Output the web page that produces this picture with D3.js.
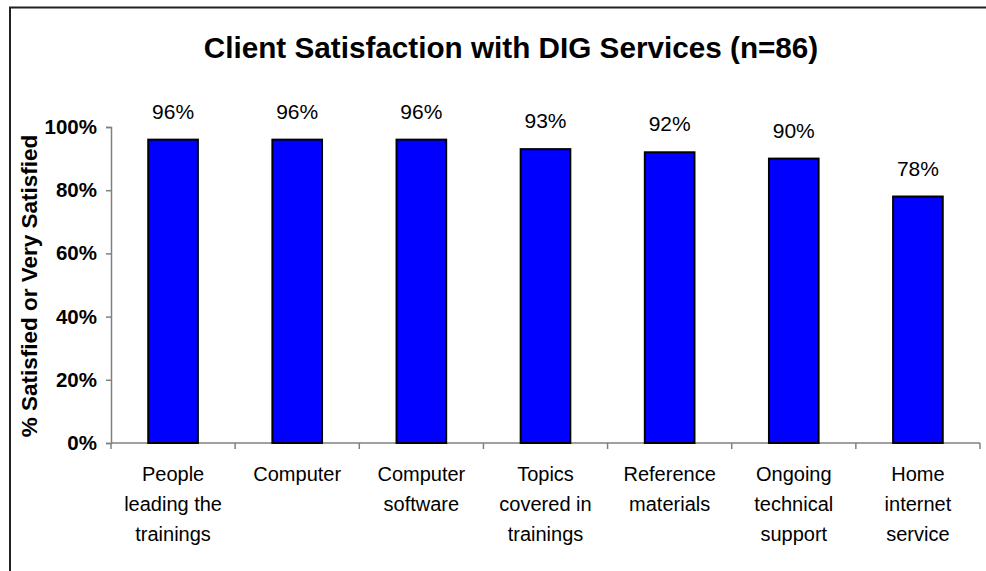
<!DOCTYPE html>
<html>
<head>
<meta charset="utf-8">
<script src="https://cdn.jsdelivr.net/npm/d3@7"></script>
<style>
  html, body { margin: 0; padding: 0; background: #fff; }
  svg { display: block; font-family: "Liberation Sans", Arial, sans-serif; }
</style>
</head>
<body>
<svg id="chart" width="986" height="571"></svg>
<script>
// Service categories (each label split into display lines)
const categories = [
  "People leading the trainings",
  "Computer",
  "Computer software",
  "Topics covered in trainings",
  "Reference materials",
  "Ongoing technical support",
  "Home internet service"
];
const categoryLines = [
  ["People", "leading the", "trainings"],
  ["Computer"],
  ["Computer", "software"],
  ["Topics", "covered in", "trainings"],
  ["Reference", "materials"],
  ["Ongoing", "technical", "support"],
  ["Home", "internet", "service"]
];
// Share of clients satisfied or very satisfied (%)
const satisfied = [96, 96, 96, 93, 92, 90, 78];
// Y-axis tick values (%)
const yTicks = [0, 20, 40, 60, 80, 100];

const svg = d3.select("#chart");

// Outer chart frame
svg.append("rect")
  .attr("x", 10).attr("y", 7.5)
  .attr("width", 990).attr("height", 600)
  .attr("fill", "none").attr("stroke", "#222").attr("stroke-width", 2);

const plot = { left: 111, right: 980, top: 127, bottom: 443 };

const x = d3.scaleBand()
  .domain(categories)
  .range([plot.left, plot.right])
  .padding(0);

const y = d3.scaleLinear()
  .domain([0, 100])
  .range([plot.bottom, plot.top]);

// Title
svg.append("text")
  .attr("x", 511).attr("y", 58)
  .attr("text-anchor", "middle")
  .attr("font-size", 29.7).attr("font-weight", "bold")
  .attr("fill", "#000")
  .text("Client Satisfaction with DIG Services (n=86)");

// Y axis
const yAxis = d3.axisLeft(y)
  .tickValues(yTicks)
  .tickSize(5)
  .tickPadding(9)
  .tickFormat(d => d + "%");
const gy = svg.append("g")
  .attr("transform", `translate(${plot.left},0)`)
  .call(yAxis);
gy.select(".domain").attr("stroke", "#808080").attr("stroke-width", 1.5);
gy.selectAll(".tick line").attr("stroke", "#808080").attr("stroke-width", 1.5);
gy.selectAll(".tick text")
  .attr("font-size", 20.5).attr("font-weight", "bold")
  .attr("font-family", "Liberation Sans, Arial, sans-serif")
  .attr("fill", "#000");

// X axis: baseline with ticks at category boundaries
svg.append("line")
  .attr("x1", plot.left).attr("x2", plot.right)
  .attr("y1", plot.bottom).attr("y2", plot.bottom)
  .attr("stroke", "#808080").attr("stroke-width", 1.5);
const bounds = categories.map(c => x(c)).concat([x(categories[categories.length - 1]) + x.bandwidth()]);
svg.selectAll(".xtick").data(bounds).enter().append("line")
  .attr("class", "xtick")
  .attr("x1", d => d).attr("x2", d => d)
  .attr("y1", plot.bottom).attr("y2", plot.bottom + 6)
  .attr("stroke", "#808080").attr("stroke-width", 1.5);

// Y-axis title
svg.append("text")
  .attr("transform", `translate(37,${(plot.top + plot.bottom) / 2 + 1}) rotate(-90)`)
  .attr("text-anchor", "middle")
  .attr("font-size", 22.5).attr("font-weight", "bold")
  .attr("fill", "#000")
  .text("% Satisfied or Very Satisfied");

// Bars
const barW = x.bandwidth() * 0.4;
svg.selectAll(".bar").data(categories).enter().append("rect")
  .attr("class", "bar")
  .attr("x", (c) => x(c) + (x.bandwidth() - barW) / 2)
  .attr("y", (c, i) => y(satisfied[i]))
  .attr("width", barW)
  .attr("height", (c, i) => y(0) - y(satisfied[i]))
  .attr("fill", "#0000ff")
  .attr("stroke", "#000").attr("stroke-width", 2);

// Value labels
svg.selectAll(".val").data(categories).enter().append("text")
  .attr("class", "val")
  .attr("x", c => x(c) + x.bandwidth() / 2)
  .attr("y", (c, i) => y(satisfied[i]) - 21)
  .attr("text-anchor", "middle")
  .attr("font-size", 21)
  .attr("fill", "#000")
  .text((c, i) => satisfied[i] + "%");

// Category labels
const lbl = svg.selectAll(".cat").data(categories).enter().append("text")
  .attr("class", "cat")
  .attr("text-anchor", "middle")
  .attr("font-size", 20)
  .attr("fill", "#000");
lbl.each(function (c, i) {
  const t = d3.select(this);
  categoryLines[i].forEach((line, k) => {
    t.append("tspan")
      .attr("x", x(c) + x.bandwidth() / 2)
      .attr("y", 481 + k * 30)
      .text(line);
  });
});
</script>
</body>
</html>
